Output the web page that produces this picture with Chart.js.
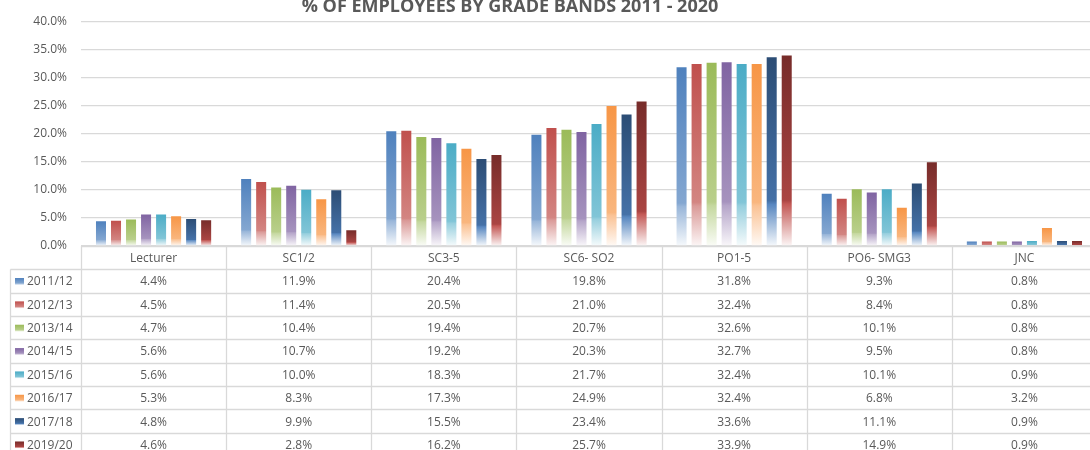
<!DOCTYPE html>
<html>
<head>
<meta charset="utf-8">
<script src="https://cdn.jsdelivr.net/npm/chart.js@4"></script>
<style>
  html, body { margin: 0; padding: 0; background: #ffffff; overflow: hidden; }
  #wrap { position: relative; width: 1100px; height: 450px; }
</style>
</head>
<body>
<div id="wrap"><canvas id="c" width="1100" height="450"></canvas></div>
<script>
// ---- data ----
const categories = ['Lecturer', 'SC1/2', 'SC3-5', 'SC6- SO2', 'PO1-5', 'PO6- SMG3', 'JNC'];
const years = ['2011/12', '2012/13', '2013/14', '2014/15', '2015/16', '2016/17', '2017/18', '2019/20'];
const v2011 = [4.4, 11.9, 20.4, 19.8, 31.8, 9.3, 0.8];
const v2012 = [4.5, 11.4, 20.5, 21.0, 32.4, 8.4, 0.8];
const v2013 = [4.7, 10.4, 19.4, 20.7, 32.6, 10.1, 0.8];
const v2014 = [5.6, 10.7, 19.2, 20.3, 32.7, 9.5, 0.8];
const v2015 = [5.6, 10.0, 18.3, 21.7, 32.4, 10.1, 0.9];
const v2016 = [5.3, 8.3, 17.3, 24.9, 32.4, 6.8, 3.2];
const v2017 = [4.8, 9.9, 15.5, 23.4, 33.6, 11.1, 0.9];
const v2019 = [4.6, 2.8, 16.2, 25.7, 33.9, 14.9, 0.9];
const seriesValues = [v2011, v2012, v2013, v2014, v2015, v2016, v2017, v2019];
const yTicks = [0, 5, 10, 15, 20, 25, 30, 35, 40];
const titleText = '% OF EMPLOYEES BY GRADE BANDS 2011 - 2020';

// ---- styles ----
const topColors = ['#4F81BD', '#C0504D', '#9BBB59', '#8064A2', '#4BACC6', '#F79646', '#2C4D75', '#772C2A'];
const accentColors = ['#4F81BD', '#C0504D', '#9BBB59', '#8064A2', '#4BACC6', '#F79646', '#4F81BD', '#C0504D'];
const FONT = '"Open Sans", "DejaVu Sans", sans-serif';
const TEXT = '#595959';
const LINE = '#d9d9d9';

function hex2rgb(h) { h = h.replace('#', ''); return [0, 2, 4].map(i => parseInt(h.substr(i, 2), 16)); }
function mix(h1, h2, t) {
  const a = hex2rgb(h1), b = hex2rgb(h2);
  return 'rgb(' + a.map((x, i) => Math.round(x + (b[i] - x) * t)).join(',') + ')';
}
function addStops(g, i) {
  const dark = topColors[i] !== accentColors[i];
  g.addColorStop(0, topColors[i]);
  if (dark) {
    g.addColorStop(0.76, mix(topColors[i], accentColors[i], 0.7));
    g.addColorStop(0.78, mix(accentColors[i], '#ffffff', 0.05));
  } else {
    g.addColorStop(0.76, mix(accentColors[i], '#ffffff', 0.3));
    g.addColorStop(0.78, mix(accentColors[i], '#ffffff', 0.42));
  }
  g.addColorStop(1, mix(accentColors[i], '#ffffff', 0.95));
}
function barFill(i) {
  return function (ctx) {
    const chart = ctx.chart;
    if (!chart.chartArea || ctx.type !== 'data') return topColors[i];
    const ys = chart.scales.y;
    const top = ys.getPixelForValue(ctx.raw);
    const base = ys.getPixelForValue(0);
    if (!isFinite(top) || base - top < 1) return topColors[i];
    const g = chart.ctx.createLinearGradient(0, top, 0, base);
    addStops(g, i);
    return g;
  };
}

const tablePlugin = {
  id: 'dataTable',
  afterDraw(chart) {
    const c = chart.ctx;
    const area = chart.chartArea;
    const xs = chart.scales.x;
    const step = xs.getPixelForValue(1) - xs.getPixelForValue(0);
    const left = xs.getPixelForValue(0) - step / 2;
    const right = xs.getPixelForValue(categories.length - 1) + step / 2;
    const headTop = area.bottom;
    const rowH = 23.35;
    const legendLeft = 10.5;
    c.save();
    c.strokeStyle = LINE;
    c.lineWidth = 1.3;
    for (let k = 0; k <= years.length + 1; k++) {
      const y = Math.round(headTop + k * rowH) + 0.5;
      c.beginPath();
      c.moveTo(k === 0 ? left : legendLeft, y);
      c.lineTo(right, y);
      c.stroke();
    }
    const bottom = headTop + (years.length + 1) * rowH + 20;
    for (let j = 0; j <= categories.length; j++) {
      const x = Math.round(left + j * step) + 0.5;
      c.beginPath(); c.moveTo(x, headTop); c.lineTo(x, bottom); c.stroke();
    }
    c.beginPath(); c.moveTo(legendLeft, headTop + rowH); c.lineTo(legendLeft, bottom); c.stroke();

    c.fillStyle = TEXT;
    c.font = '12px ' + FONT;
    c.textAlign = 'center';
    c.textBaseline = 'middle';
    categories.forEach((cat, j) => {
      c.fillText(cat, xs.getPixelForValue(j), headTop + rowH / 2 + 1);
    });
    years.forEach((yr, r) => {
      const cy = headTop + (r + 1) * rowH + rowH / 2 + 1;
      seriesValues[r].forEach((v, j) => {
        c.fillStyle = TEXT;
        c.textAlign = 'center';
        c.fillText(v.toFixed(1) + '%', xs.getPixelForValue(j), cy);
      });
      const g = c.createLinearGradient(0, cy - 4, 0, cy + 3);
      addStops(g, r);
      c.fillStyle = g;
      c.fillRect(15, cy - 4, 9, 7);
      c.fillStyle = TEXT;
      c.textAlign = 'left';
      c.fillText(yr, 27, cy);
    });
    c.fillStyle = TEXT;
    c.font = 'bold 18px ' + FONT;
    c.textAlign = 'center';
    c.textBaseline = 'alphabetic';
    c.fillText(titleText, 510, 12);
    c.restore();
  }
};

new Chart(document.getElementById('c'), {
  type: 'bar',
  data: {
    labels: categories,
    datasets: years.map((yr, i) => ({
      label: yr,
      data: seriesValues[i],
      backgroundColor: barFill(i),
      borderWidth: 0,
      categoryPercentage: 0.828,
      barPercentage: 0.667
    }))
  },
  options: {
    responsive: false,
    animation: false,
    layout: { padding: { top: 21, left: 0, right: 3, bottom: 204 } },
    plugins: { legend: { display: false }, tooltip: { enabled: false }, title: { display: false } },
    scales: {
      x: { display: false },
      y: {
        min: 0, max: 40,
        afterBuildTicks(scale) { scale.ticks = yTicks.map(v => ({ value: v })); },
        afterFit(scale) { scale.width = 81; },
        border: { display: false },
        grid: { color: LINE, lineWidth: 1.3, drawTicks: false },
        ticks: {
          padding: 14,
          color: TEXT,
          font: { family: FONT, size: 12 },
          callback: v => v.toFixed(1) + '%'
        }
      }
    }
  },
  plugins: [tablePlugin]
});
</script>
</body>
</html>
